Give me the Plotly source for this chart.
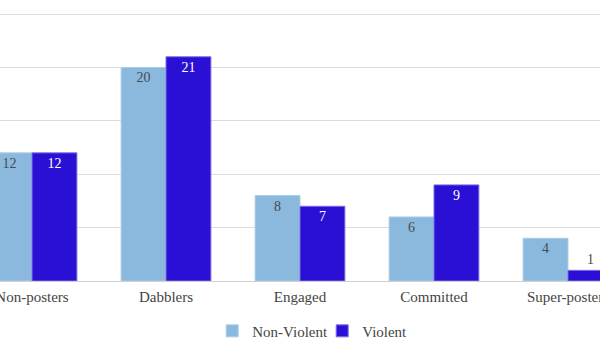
import plotly.graph_objects as go

categories = ["Non-posters", "Dabblers", "Engaged", "Committed", "Super-posters"]
non_violent = [12, 20, 8, 6, 4]
violent = [12, 21, 7, 9, 1]

LIGHT = "#8AB9DD"
VIOLET = "#2A0FD5"
SERIF = "Liberation Serif"

fig = go.Figure()
fig.add_trace(go.Bar(
    name="Non-Violent", x=categories, y=non_violent,
    marker=dict(color=LIGHT, line=dict(color="#A9CDE8", width=1)),
    text=[str(v) for v in non_violent],
    textposition="inside", insidetextanchor="end",
    textfont=dict(family=SERIF, size=14, color="#4a4a4a"),
    constraintext="none",
))
fig.add_trace(go.Bar(
    name="Violent", x=categories, y=violent,
    marker=dict(color=VIOLET, line=dict(color="#7F6FE6", width=1)),
    text=[str(v) for v in violent],
    textposition=["inside", "inside", "inside", "inside", "outside"],
    insidetextanchor="end",
    textfont=dict(family=SERIF, size=14,
                  color=["white", "white", "white", "white", "#4a4a4a"]),
    outsidetextfont=dict(family=SERIF, size=14, color="#4a4a4a"),
    constraintext="none", cliponaxis=False,
))

fig.update_layout(
    width=600, height=359,
    margin=dict(l=0, r=0, t=13, b=78, autoexpand=False),
    paper_bgcolor="white", plot_bgcolor="white",
    barmode="group", bargap=0.33, bargroupgap=0,
    font=dict(family=SERIF, size=15, color="#444"),
    showlegend=True,
    legend=dict(orientation="h", x=0.537, xanchor="center", y=-0.187, yanchor="middle",
                font=dict(family=SERIF, size=15, color="#444"),
                itemwidth=30, entrywidth=65, traceorder="normal"),
    xaxis=dict(range=[-0.239, 4.239], showgrid=False, showline=True, automargin=False,
               linecolor="#d0d0d0", linewidth=1, ticks="", ticklabelstandoff=2,
               tickfont=dict(family=SERIF, size=15, color="#444")),
    yaxis=dict(range=[0, 25.1], dtick=5, showticklabels=False, showgrid=True, automargin=False,
               gridcolor="#dcdcdc", gridwidth=1, zeroline=False),
)

fig.write_html("out.html", config={"displayModeBar": False},
               post_script="document.body.style.margin='0';")
